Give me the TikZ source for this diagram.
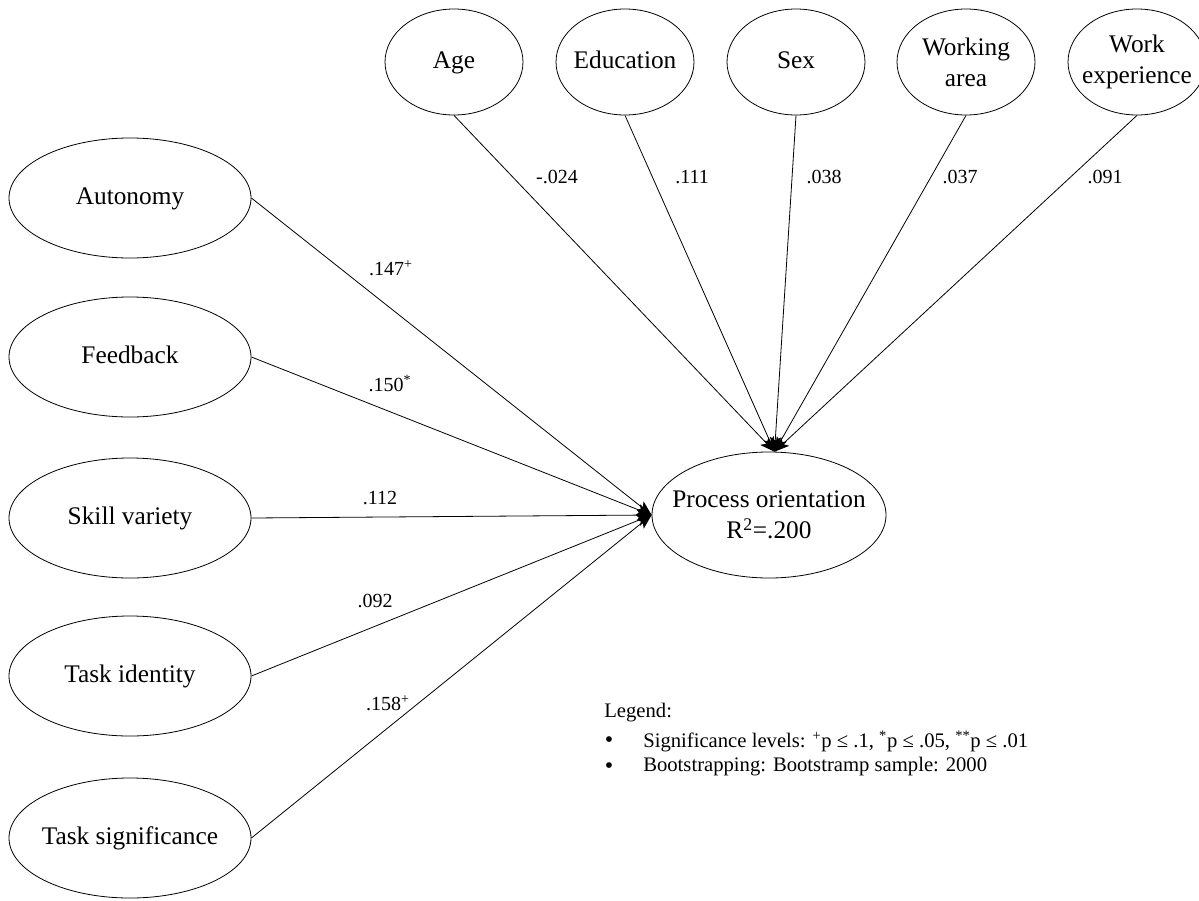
\documentclass[tikz,border=0pt]{standalone}
\usepackage{fontspec}
\setmainfont{Liberation Serif}
\usetikzlibrary{shapes.geometric,arrows.meta}
\begin{document}
\begin{tikzpicture}[x=0.75pt,y=-0.75pt,
  ell/.style={draw,ellipse,inner xsep=-8pt,inner ysep=0pt,line width=0.6pt,align=center,
    font=\fontsize{19}{23.5}\selectfont},
  topell/.style={ell,minimum width=103.5pt,minimum height=79.5pt},
  leftell/.style={ell,minimum width=181.5pt,minimum height=90pt},
  conn/.style={line width=0.6pt,-{Stealth[length=11pt,width=8.5pt,inset=2.5pt]}},
  lab/.style={font=\fontsize{15}{18}\selectfont,inner sep=0pt},
  legtxt/.style={font=\fontsize{15.5}{18}\selectfont,inner sep=0pt,anchor=west},
  bul/.style={font=\fontsize{18}{18}\selectfont,inner sep=0pt}]
\useasboundingbox (0,0) rectangle (1199,900);
% top nodes
\node[topell] (age) at (454,62) {Age\strut};
\node[topell] (edu) at (625,62) {Education\strut};
\node[topell] (sex) at (796,62) {Sex\strut};
\node[topell] (wa) at (966,62) {Working\\area};
\node[topell] (we) at (1137,62) {Work\\experience};
% left nodes
\node[leftell] (aut) at (130,198) {Autonomy\strut};
\node[leftell] (fb) at (130,357) {Feedback\strut};
\node[leftell] (sv) at (130,518) {Skill variety\strut};
\node[leftell] (ti) at (130,676) {Task identity\strut};
\node[leftell] (ts) at (130,838) {Task significance\strut};
% target
\node[ell,inner xsep=-12pt,minimum width=175.5pt,minimum height=94.5pt] (po) at (769,515)
  {Process orientation\\R\textsuperscript{2}=.200};
% connectors
\draw[conn] (aut.east) -- (po.west);
\draw[conn] (fb.east) -- (po.west);
\draw[conn] (sv.east) -- (po.west);
\draw[conn] (ti.east) -- (po.west);
\draw[conn] (ts.east) -- (po.west);
\draw[conn] (age.south) -- (po.85);
\draw[conn] (edu.south) -- (po.85);
\draw[conn] (sex.south) -- (po.85);
\draw[conn] (wa.south) -- (po.85);
\draw[conn] (we.south) -- (po.85);
% labels
\node[lab] (l1) at (557,177) {-.024};
\node[lab] (l2) at (692,177) {.111};
\node[lab] (l3) at (824,177) {.038};
\node[lab] (l4) at (960,177) {.037};
\node[lab] (l5) at (1105,177) {.091};
\node[lab] (l6) at (391,268) {.147\textsuperscript{+}};
\node[lab] (l7) at (390,384) {.150\textsuperscript{*}};
\node[lab] (l8) at (380,498) {.112};
\node[lab] (l9) at (375,601) {.092};
\node[lab] (l10) at (388,703) {.158\textsuperscript{+}};
% legend
\node[legtxt] (lg) at (604,713) {Legend:};
\node[bul] (b1) at (609,742) {•};
\node[legtxt] (t1) at (643,741) {Significance levels: \textsuperscript{+}p ≤ .1, \textsuperscript{*}p ≤ .05, \textsuperscript{**}p ≤ .01};
\node[bul] (b2) at (609,768) {•};
\node[legtxt] (t2) at (643,767) {Bootstrapping: Bootstramp sample: 2000};
\end{tikzpicture}
\end{document}
